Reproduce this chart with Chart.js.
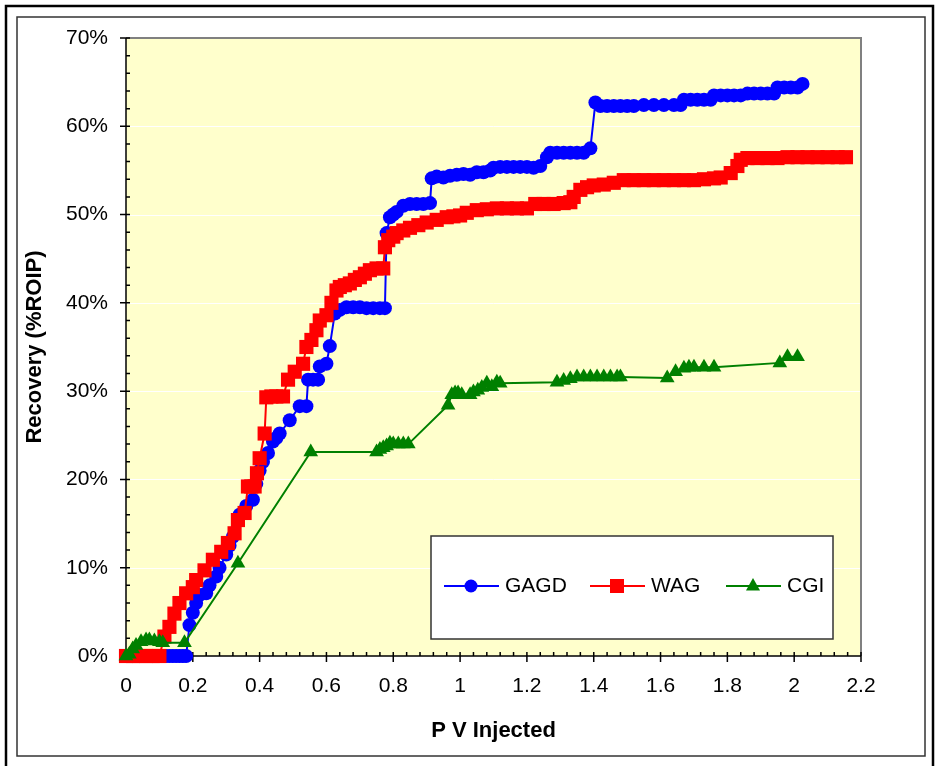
<!DOCTYPE html>
<html>
<head>
<meta charset="utf-8">
<script src="https://cdn.jsdelivr.net/npm/chart.js@4.4.0/dist/chart.umd.min.js"></script>
<style>
  html, body { margin: 0; padding: 0; background: #fff; }
</style>
</head>
<body>
<canvas id="chart" width="936" height="766"></canvas>
<script>
// values (PV injected, recovery %ROIP)
const gagdX = [0, 0.12, 0.13, 0.14, 0.15, 0.16, 0.17, 0.18, 0.19, 0.2, 0.21, 0.22, 0.24, 0.25, 0.27, 0.28, 0.3, 0.31, 0.32, 0.34, 0.36, 0.38,
  0.39, 0.4, 0.41, 0.425, 0.44, 0.45, 0.46, 0.49, 0.52, 0.54, 0.545, 0.56, 0.575, 0.58, 0.6, 0.61, 0.625, 0.64, 0.66, 0.68, 0.7, 0.72,
  0.74, 0.76, 0.775, 0.78, 0.79, 0.8, 0.81, 0.83, 0.85, 0.87, 0.89, 0.91, 0.915, 0.93, 0.95, 0.97, 0.99, 1.01, 1.03, 1.05, 1.07, 1.09,
  1.1, 1.12, 1.14, 1.16, 1.18, 1.2, 1.22, 1.24, 1.26, 1.27, 1.29, 1.31, 1.33, 1.35, 1.37, 1.39, 1.405, 1.42, 1.44, 1.46, 1.48, 1.5,
  1.52, 1.55, 1.58, 1.61, 1.64, 1.66, 1.67, 1.69, 1.71, 1.73, 1.75, 1.76, 1.78, 1.8, 1.82, 1.84, 1.86, 1.88, 1.9, 1.92, 1.94, 1.95,
  1.97, 1.99, 2.01, 2.025];
const gagdY = [0, 0, 0, 0, 0, 0, 0, 0, 3.5, 4.9, 6.0, 6.9, 7.1, 8.0, 9.0, 10.0, 11.5, 12.5, 13.5, 16.0, 17.0, 17.7,
  19.5, 21.0, 22.0, 23.0, 24.3, 24.7, 25.2, 26.7, 28.3, 28.3, 31.3, 31.3, 31.3, 32.8, 33.1, 35.1, 38.8, 39.2, 39.5, 39.5, 39.5, 39.4,
  39.4, 39.4, 39.4, 47.9, 49.7, 50.0, 50.3, 51.0, 51.2, 51.2, 51.2, 51.3, 54.1, 54.3, 54.2, 54.4, 54.5, 54.6, 54.5, 54.8, 54.8, 55.0,
  55.3, 55.4, 55.4, 55.4, 55.4, 55.4, 55.3, 55.5, 56.5, 57.0, 57.0, 57.0, 57.0, 57.0, 57.0, 57.5, 62.7, 62.3, 62.3, 62.3, 62.3, 62.3,
  62.3, 62.4, 62.4, 62.4, 62.4, 62.4, 63.0, 63.0, 63.0, 63.0, 63.0, 63.5, 63.5, 63.5, 63.5, 63.5, 63.7, 63.7, 63.7, 63.7, 63.7, 64.4,
  64.4, 64.4, 64.4, 64.8];

const wagX = [0, 0.02, 0.04, 0.06, 0.08, 0.1, 0.115, 0.13, 0.145, 0.16, 0.18, 0.2, 0.21, 0.235, 0.26, 0.285, 0.305, 0.325, 0.335, 0.355,
  0.365, 0.375, 0.385, 0.392, 0.4, 0.415, 0.42, 0.435, 0.45, 0.47, 0.485, 0.505, 0.53, 0.54, 0.555, 0.57, 0.58, 0.6, 0.615, 0.63, 0.64,
  0.655, 0.67, 0.685, 0.7, 0.715, 0.73, 0.75, 0.77, 0.775, 0.785, 0.8, 0.81, 0.83, 0.85, 0.875, 0.9, 0.93, 0.96, 0.98, 1.0, 1.02, 1.05,
  1.08, 1.11, 1.14, 1.17, 1.2, 1.225, 1.25, 1.28, 1.31, 1.33, 1.34, 1.36, 1.38, 1.4, 1.43, 1.46, 1.49, 1.52, 1.55, 1.58, 1.61, 1.64,
  1.67, 1.7, 1.73, 1.76, 1.78, 1.81, 1.83, 1.84, 1.86, 1.89, 1.92, 1.95, 1.98, 2.01, 2.04, 2.07, 2.1, 2.13, 2.155];
const wagY = [0, 0, 0, 0, 0, 0, 2.2, 3.3, 4.8, 6.0, 7.1, 7.8, 8.6, 9.7, 10.9, 11.8, 12.8, 13.9, 15.4, 16.2,
  19.2, 19.2, 19.2, 20.7, 22.4, 25.2, 29.3, 29.4, 29.4, 29.4, 31.3, 32.2, 33.1, 35.0, 35.8, 36.9, 38.0, 38.6, 40.0, 41.4, 41.8,
  42.0, 42.2, 42.6, 42.9, 43.3, 43.7, 43.9, 43.9, 46.3, 47.1, 47.5, 47.9, 48.2, 48.5, 48.8, 49.1, 49.4, 49.7, 49.8, 49.9, 50.2, 50.5,
  50.6, 50.7, 50.7, 50.7, 50.7, 51.2, 51.2, 51.2, 51.3, 51.4, 52.0, 52.8, 53.1, 53.3, 53.4, 53.6, 53.9, 53.9, 53.9, 53.9, 53.9, 53.9,
  53.9, 53.9, 54.0, 54.1, 54.2, 54.7, 55.5, 56.2, 56.4, 56.4, 56.4, 56.4, 56.5, 56.5, 56.5, 56.5, 56.5, 56.5, 56.5];

const cgiX = [0, 0.01, 0.02, 0.03, 0.045, 0.06, 0.07, 0.085, 0.1, 0.11, 0.175, 0.335, 0.553, 0.75, 0.76, 0.77, 0.78, 0.79, 0.8, 0.815,
  0.83, 0.845, 0.964, 0.975, 0.985, 0.994, 1.005, 1.03, 1.04, 1.053, 1.065, 1.08, 1.095, 1.11, 1.12, 1.29, 1.31, 1.33, 1.35, 1.37,
  1.39, 1.41, 1.43, 1.45, 1.47, 1.48, 1.62, 1.645, 1.67, 1.685, 1.7, 1.73, 1.76, 1.957, 1.98, 2.01];
const cgiY = [0, 0.2, 0.8, 1.2, 1.6, 1.8, 1.8, 1.7, 1.6, 1.5, 1.5, 10.5, 23.1, 23.1, 23.4, 23.6, 23.8, 24.1, 24.0, 24.0,
  24.0, 24.0, 28.4, 29.6, 29.8, 29.8, 29.6, 29.6, 29.9, 30.1, 30.4, 30.9, 30.5, 31.0, 30.9, 31.0, 31.2, 31.4, 31.6, 31.6,
  31.6, 31.6, 31.6, 31.6, 31.6, 31.6, 31.5, 32.2, 32.6, 32.7, 32.7, 32.7, 32.7, 33.2, 33.9, 33.9];

const seriesNames = ['GAGD', 'WAG', 'CGI'];
const seriesColors = ['#0000FF', '#FF0000', '#008000'];

const FONT = "'Liberation Sans', Arial, sans-serif";

function toPoints(xs, ys) {
  return xs.map((x, i) => ({ x: x, y: ys[i] }));
}

// background, frames, plot area fill and white gridlines
const backdrop = {
  id: 'backdrop',
  beforeDraw(chart) {
    const { ctx, chartArea: a, scales } = chart;
    ctx.save();
    ctx.fillStyle = '#fff';
    ctx.fillRect(0, 0, chart.width, chart.height);
    ctx.strokeStyle = '#000';
    ctx.lineWidth = 2.5;
    ctx.strokeRect(6, 6, 927, 770);
    ctx.strokeStyle = '#333';
    ctx.lineWidth = 1.5;
    ctx.strokeRect(17, 17, 908, 739);
    ctx.fillStyle = '#FFFFCC';
    ctx.fillRect(a.left, a.top, a.right - a.left, a.bottom - a.top);
    ctx.strokeStyle = '#fff';
    ctx.lineWidth = 1;
    for (let v = 10; v < 70; v += 10) {
      const y = Math.round(scales.y.getPixelForValue(v)) + 0.5;
      ctx.beginPath();
      ctx.moveTo(a.left, y);
      ctx.lineTo(a.right, y);
      ctx.stroke();
    }
    ctx.restore();
  },
  beforeDatasetsDraw(chart) {
    const { ctx, chartArea: a, scales } = chart;
    ctx.save();
    // gray border top & right
    ctx.strokeStyle = '#808080';
    ctx.lineWidth = 2;
    ctx.beginPath();
    ctx.moveTo(a.left, a.top);
    ctx.lineTo(a.right, a.top);
    ctx.lineTo(a.right, a.bottom);
    ctx.stroke();
    // black axes with major and minor ticks
    ctx.strokeStyle = '#000';
    ctx.lineWidth = 1.5;
    ctx.beginPath();
    ctx.moveTo(a.left, a.top);
    ctx.lineTo(a.left, a.bottom);
    ctx.lineTo(a.right, a.bottom);
    for (let i = 0; i <= 35; i++) {
      const y = scales.y.getPixelForValue(i * 2);
      ctx.moveTo(i % 5 === 0 ? a.left - 6 : a.left, y);
      ctx.lineTo(a.left + 4, y);
    }
    for (let i = 0; i <= 55; i++) {
      const x = scales.x.getPixelForValue(i * 0.04);
      ctx.moveTo(x, a.bottom - 4);
      ctx.lineTo(x, i % 5 === 0 ? a.bottom + 6 : a.bottom);
    }
    ctx.stroke();
    ctx.restore();
  }
};

function marker(ctx, style, x, y, color) {
  ctx.fillStyle = color;
  ctx.beginPath();
  if (style === 'circle') {
    ctx.arc(x, y, 6.5, 0, Math.PI * 2);
  } else if (style === 'rect') {
    ctx.rect(x - 7, y - 7, 14, 14);
  } else {
    ctx.moveTo(x, y - 8);
    ctx.lineTo(x + 7, y + 4.5);
    ctx.lineTo(x - 7, y + 4.5);
    ctx.closePath();
  }
  ctx.fill();
}

// boxed legend inside the plot
const boxLegend = {
  id: 'boxLegend',
  afterDraw(chart) {
    const ctx = chart.ctx;
    ctx.save();
    ctx.fillStyle = '#fff';
    ctx.fillRect(431, 536, 402, 103);
    ctx.strokeStyle = '#333';
    ctx.lineWidth = 1.5;
    ctx.strokeRect(431, 536, 402, 103);
    const styles = ['circle', 'rect', 'triangle'];
    const starts = [444, 590, 726];
    const y = 586;
    ctx.font = '21px ' + FONT;
    ctx.textBaseline = 'middle';
    seriesNames.forEach((name, i) => {
      const x0 = starts[i];
      ctx.strokeStyle = seriesColors[i];
      ctx.lineWidth = 2;
      ctx.beginPath();
      ctx.moveTo(x0, y);
      ctx.lineTo(x0 + 55, y);
      ctx.stroke();
      marker(ctx, styles[i], x0 + 27, y, seriesColors[i]);
      ctx.fillStyle = '#000';
      ctx.fillText(name, x0 + 61, y);
    });
    ctx.restore();
  }
};

const tickFont = { family: FONT, size: 21 };
const titleFont = { family: FONT, size: 22, weight: 'bold' };

new Chart(document.getElementById('chart'), {
  type: 'scatter',
  data: {
    datasets: [
      {
        label: seriesNames[0], data: toPoints(gagdX, gagdY), order: 3,
        showLine: true, borderColor: seriesColors[0], backgroundColor: seriesColors[0], borderWidth: 2,
        pointStyle: 'circle', pointRadius: 7, pointBorderWidth: 0, clip: false
      },
      {
        label: seriesNames[1], data: toPoints(wagX, wagY), order: 2,
        showLine: true, borderColor: seriesColors[1], backgroundColor: seriesColors[1], borderWidth: 2,
        pointStyle: 'rect', pointRadius: 10, pointBorderWidth: 0, clip: false
      },
      {
        label: seriesNames[2], data: toPoints(cgiX, cgiY), order: 1,
        showLine: true, borderColor: seriesColors[2], backgroundColor: seriesColors[2], borderWidth: 2,
        pointStyle: 'triangle', pointRadius: 8.5, pointBorderWidth: 0, clip: false
      }
    ]
  },
  options: {
    responsive: false,
    animation: false,
    layout: { padding: { left: 17, top: 38, right: 75, bottom: 10 } },
    plugins: {
      legend: { display: false },
      tooltip: { enabled: false }
    },
    scales: {
      x: {
        type: 'linear', min: 0, max: 2.2,
        grid: { display: false, drawTicks: false },
        border: { display: false },
        ticks: {
          stepSize: 0.2, color: '#000', font: tickFont, padding: 18, maxRotation: 0, autoSkip: false,
          callback: v => String(Math.round(v * 10) / 10)
        },
        title: { display: true, text: 'P V Injected', color: '#000', font: titleFont, padding: { top: 0, bottom: 12 } },
        afterFit: s => { s.height = 100; }
      },
      y: {
        min: 0, max: 70,
        grid: { display: false, drawTicks: false },
        border: { display: false },
        ticks: { stepSize: 10, color: '#000', font: tickFont, padding: 18, callback: v => v + '%' },
        title: { display: true, text: 'Recovery (%ROIP)', color: '#000', font: titleFont, padding: { top: 5, bottom: 0 } },
        afterFit: s => { s.width = 109; }
      }
    }
  },
  plugins: [backdrop, boxLegend]
});
</script>
</body>
</html>
